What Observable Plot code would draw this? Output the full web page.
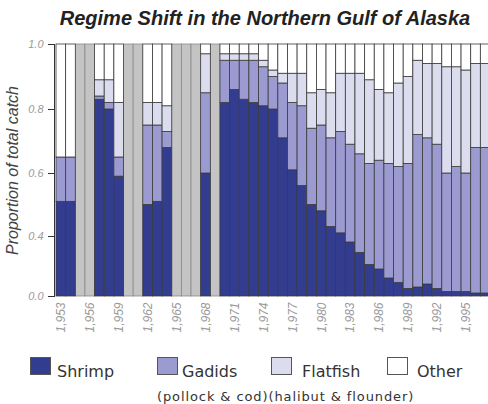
<!DOCTYPE html>
<html>
<head>
<meta charset="utf-8">
<script src="https://cdn.jsdelivr.net/npm/d3@7"></script>
<script src="https://cdn.jsdelivr.net/npm/@observablehq/plot@0.6"></script>
<style>
  body { margin: 0; background: #fff; width: 488px; height: 404px; overflow: hidden; }
  #title { height: 36px; box-sizing: border-box; padding-top: 8px; padding-left: 42px; text-align: center;
           font: italic bold 20px/20px "Liberation Sans", Arial, sans-serif; color: #222; white-space: nowrap; }
  #chart svg { display: block; }
  #legend { position: relative; height: 58px; font-family: "DejaVu Sans", sans-serif; color: #333; }
  .sw { position: absolute; top: 11px; width: 21px; height: 18px; box-sizing: border-box; border: 1px solid #555; }
  .lb { position: absolute; top: 18px; font-size: 16px; line-height: 16px; white-space: nowrap; }
  .sub { position: absolute; top: 44px; font-size: 13px; line-height: 13px; letter-spacing: 0.9px; white-space: nowrap; }
</style>
</head>
<body>
<div id="title"></div>
<div id="chart"></div>
<div id="legend"></div>
<script>
const titleText = "Regime Shift in the Northern Gulf of Alaska";
const yTitle = "Proportion of total catch";
const categories = ["Shrimp", "Gadids", "Flatfish", "Other"];
const subLabel = "(pollock & cod)(halibut & flounder)";
const catColors = ["#323d90", "#9b9bd2", "#dcdcef", "#ffffff"];

const years   = [1953,1954,1957,1958,1959,1962,1963,1964,1968,
                 1970,1971,1972,1973,1974,1975,1976,1977,1978,1979,1980,1981,1982,1983,
                 1984,1985,1986,1987,1988,1989,1990,1991,1992,1993,1994,1995,1996,1997];
const shrimp  = [.51,.51,.83,.80,.59,.50,.51,.68,.60,
                 .82,.86,.83,.82,.81,.80,.71,.61,.56,.50,.48,.43,.41,.36,
                 .29,.21,.18,.12,.09,.05,.06,.08,.05,.03,.03,.03,.02,.02];
const gadids  = [.14,.14,.01,.02,.06,.25,.24,.05,.25,
                 .13,.09,.12,.13,.12,.10,.17,.21,.25,.24,.27,.28,.32,.33,
                 .37,.42,.46,.51,.53,.58,.66,.63,.64,.57,.59,.57,.66,.66];
const flatfish= [0,0,.05,.07,.17,.07,.07,.08,.12,
                 .02,.02,.02,.02,.02,.02,.03,.09,.10,.11,.11,.14,.18,.22,
                 .25,.26,.22,.22,.26,.27,.23,.23,.25,.33,.31,.32,.26,.26];
const other   = [.35,.35,.11,.11,.18,.18,.18,.19,.03,
                 .03,.03,.03,.03,.05,.08,.09,.09,.09,.15,.14,.15,.09,.09,
                 .09,.11,.14,.15,.12,.10,.05,.06,.06,.07,.07,.08,.06,.06];
const missingYears = [1955,1956,1960,1961,1965,1966,1967,1969];
const xTickYears = [1953,1956,1959,1962,1965,1968,1971,1974,1977,1980,1983,1986,1989,1992,1995];
const yTickValues = [0, 0.4, 0.6, 0.8, 1.0];

const allYears = d3.range(1953, 1998);
const series = [shrimp, gadids, flatfish, other];
const table = [];
years.forEach((yr, i) => categories.forEach((c, j) => table.push({year: yr, category: c, value: series[j][i]})));

document.getElementById("title").textContent = titleText;

const chart = Plot.plot({
  width: 488, height: 310,
  marginLeft: 54, marginRight: 0, marginTop: 8, marginBottom: 50,
  style: {fontFamily: '"Liberation Sans", Arial, sans-serif', background: "white"},
  x: {type: "band", domain: allYears, range: [56, 490], padding: 0, round: false},
  y: {type: "linear", domain: yTickValues, range: [260, 200, 137, 73, 8]},
  color: {domain: categories, range: catColors},
  marks: [
    Plot.barY(missingYears, {x: d => d, y1: 0, y2: 1, fill: "#c4c4c4", stroke: "#8a8a8a", strokeWidth: 0.8}),
    Plot.barY(table, {x: "year", y: "value", fill: "category", order: categories, stroke: "#3a3a3a", strokeWidth: 0.8}),
    Plot.frame({anchor: "left", stroke: "#333"}),
    Plot.axisY({ticks: yTickValues, tickFormat: d3.format(".1f"), tickSize: 6, tickPadding: 5,
                stroke: "#333", fill: "#9a9a9a", fontStyle: "italic", fontSize: 11, label: null}),
    Plot.axisX({ticks: xTickYears, tickRotate: -90, tickSize: 0, tickPadding: 6,
                fill: "#9a9a9a", fontStyle: "italic", fontSize: 12, label: null}),
    Plot.text([yTitle], {text: d => d, frameAnchor: "left", textAnchor: "middle", rotate: -90, dx: -42,
                fontStyle: "italic", fontSize: 16, fill: "#444"})
  ]
});
document.getElementById("chart").appendChild(chart);

const legend = document.getElementById("legend");
const swX = [30, 157, 271, 387];
const lbX = [57, 182, 302, 417];
categories.forEach((c, i) => {
  const sw = document.createElement("div");
  sw.className = "sw";
  sw.style.left = swX[i] + "px";
  sw.style.background = catColors[i];
  legend.appendChild(sw);
  const lb = document.createElement("div");
  lb.className = "lb";
  lb.style.left = lbX[i] + "px";
  lb.textContent = c;
  legend.appendChild(lb);
});
const sub = document.createElement("div");
sub.className = "sub";
sub.style.left = "157px";
sub.textContent = subLabel;
legend.appendChild(sub);
</script>
</body>
</html>
